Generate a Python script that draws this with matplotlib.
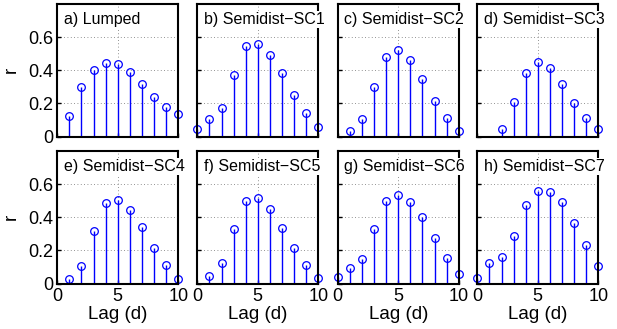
import matplotlib.pyplot as plt
import numpy as np

plt.rcParams['font.family'] = ['Liberation Sans', 'DejaVu Sans']
plt.rcParams['font.size'] = 10

titles = ['a) Lumped', 'b) Semidist\u2212SC1', 'c) Semidist\u2212SC2', 'd) Semidist\u2212SC3',
          'e) Semidist\u2212SC4', 'f) Semidist\u2212SC5', 'g) Semidist\u2212SC6', 'h) Semidist\u2212SC7']

lags_a = [1, 2, 3, 4, 5, 6, 7, 8, 9, 10]
r_a = [0.125, 0.297, 0.400, 0.444, 0.436, 0.388, 0.315, 0.238, 0.176, 0.137]
lags_b = [0, 1, 2, 3, 4, 5, 6, 7, 8, 9, 10]
r_b = [0.044, 0.103, 0.172, 0.374, 0.547, 0.560, 0.493, 0.382, 0.248, 0.139, 0.057]
lags_c = [1, 2, 3, 4, 5, 6, 7, 8, 9, 10]
r_c = [0.036, 0.107, 0.301, 0.483, 0.521, 0.461, 0.345, 0.216, 0.111, 0.034]
lags_d = [2, 3, 4, 5, 6, 7, 8, 9, 10]
r_d = [0.044, 0.208, 0.382, 0.450, 0.416, 0.315, 0.204, 0.113, 0.044]
lags_e = [1, 2, 3, 4, 5, 6, 7, 8, 9, 10]
r_e = [0.028, 0.107, 0.317, 0.487, 0.503, 0.442, 0.339, 0.216, 0.113, 0.028]
lags_f = [1, 2, 3, 4, 5, 6, 7, 8, 9, 10]
r_f = [0.046, 0.125, 0.329, 0.501, 0.519, 0.448, 0.335, 0.212, 0.111, 0.034]
lags_g = [0, 1, 2, 3, 4, 5, 6, 7, 8, 9, 10]
r_g = [0.042, 0.095, 0.145, 0.327, 0.501, 0.535, 0.495, 0.402, 0.273, 0.156, 0.055]
lags_h = [0, 1, 2, 3, 4, 5, 6, 7, 8, 9, 10]
r_h = [0.036, 0.121, 0.162, 0.287, 0.473, 0.556, 0.554, 0.491, 0.368, 0.232, 0.107]

all_lags = [lags_a, lags_b, lags_c, lags_d, lags_e, lags_f, lags_g, lags_h]
all_r = [r_a, r_b, r_c, r_d, r_e, r_f, r_g, r_h]

W, H = 617, 329
fig = plt.figure(figsize=(W / 100, H / 100), dpi=100)

lefts = [57.2, 197.3, 337.7, 477.3]
tops = [4.0, 151.0]
aw, ah = 121.0, 132.5

for k in range(8):
    row, col = divmod(k, 4)
    ax = fig.add_axes([lefts[col] / W, 1 - (tops[row] + ah) / H, aw / W, ah / H])
    markers, stems, base = ax.stem(all_lags[k], all_r[k], basefmt=' ')
    plt.setp(stems, color='blue', linewidth=1)
    plt.setp(markers, color='blue', markerfacecolor='none', markersize=5.5, markeredgewidth=0.9)
    markers.set_clip_on(False)
    ax.set_xlim(0, 10)
    ax.set_ylim(0, 0.8)
    ax.set_xticks([0, 5, 10])
    ax.set_yticks([0, 0.2, 0.4, 0.6])
    ax.grid(True, linestyle=(0, (1, 3)), color='#707070', linewidth=0.6)
    ax.set_axisbelow(True)
    for s in ax.spines.values():
        s.set_linewidth(1.5)
    ax.tick_params(direction='in', length=3, width=1, labelsize=13, pad=3)
    if row == 0:
        ax.set_xticklabels([])
    else:
        ax.set_xlabel('Lag (d)', fontsize=13.5, labelpad=1)
    if col == 0:
        ax.set_yticklabels(['0', '0.2', '0.4', '0.6'])
        ax.set_ylabel('r', fontsize=13.5, labelpad=6)
    else:
        ax.set_yticklabels([])
    ax.text(0.055, 0.94, titles[k], transform=ax.transAxes, ha='left', va='top',
            fontsize=11.5, bbox=dict(facecolor='white', edgecolor='none', pad=1))

fig.savefig('out.png', dpi=100)
